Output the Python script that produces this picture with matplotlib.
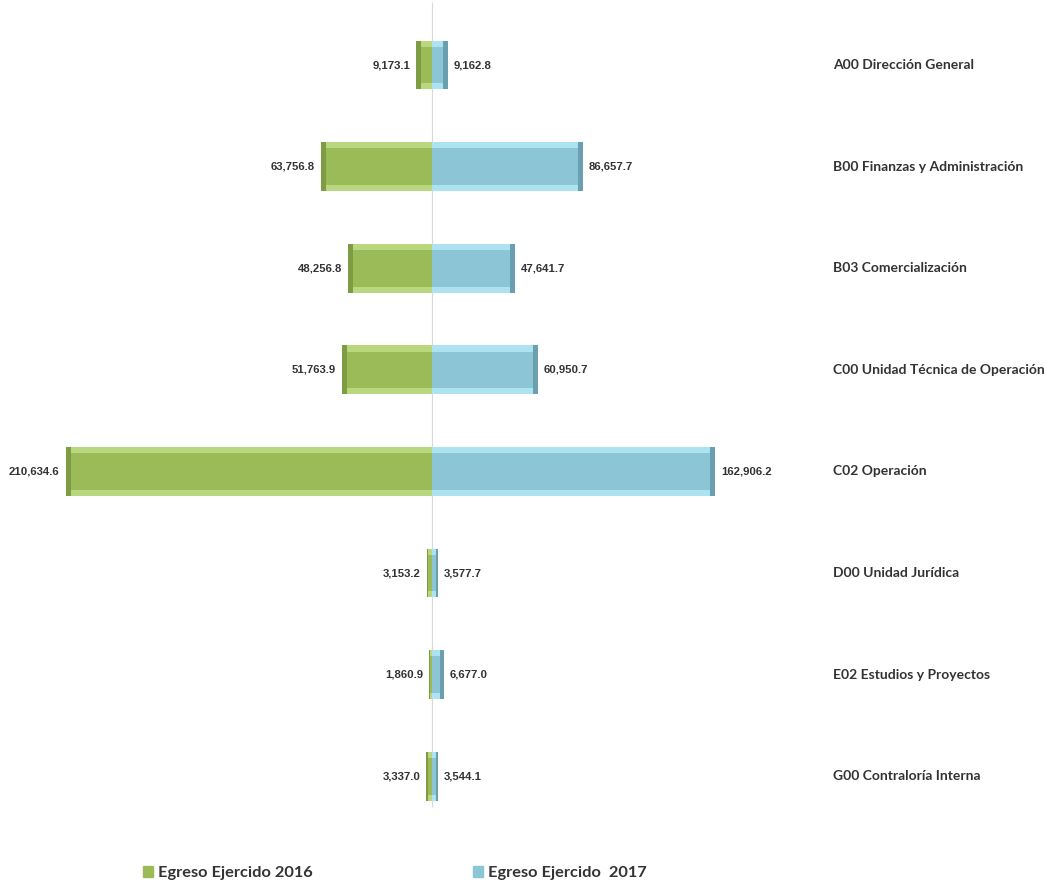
import matplotlib.pyplot as plt
import numpy as np

# data
categories = ["A00 Dirección General", "B00 Finanzas y Administración",
              "B03 Comercialización", "C00 Unidad Técnica de Operación",
              "C02 Operación", "D00 Unidad Jurídica",
              "E02 Estudios y Proyectos", "G00 Contraloría Interna"]
egreso_2016 = [9173.1, 63756.8, 48256.8, 51763.9, 210634.6, 3153.2, 1860.9, 3337.0]
egreso_2017 = [9162.8, 86657.7, 47641.7, 60950.7, 162906.2, 3577.7, 6677.0, 3544.1]
series_names = ["Egreso Ejercido 2016", "Egreso Ejercido  2017"]

GREEN = "#9BBB59"
GREEN_LIGHT = "#B9D77F"
GREEN_DARK = "#7E9C44"
BLUE = "#8CC5D5"
BLUE_LIGHT = "#ADE2F1"
BLUE_DARK = "#6A9FAF"

NUM_FONT = ["Liberation Sans Narrow", "Liberation Sans", "DejaVu Sans"]
LAB_FONT = ["Lato", "DejaVu Sans"]

fig = plt.figure(figsize=(10.44, 8.88), dpi=100)
ax = fig.add_axes([0, 0, 1, 1])

# scale: ~575 units per pixel, zero at x=432 px
UPP = 575.0
ax.set_xlim(-432 * UPP, (1044 - 432) * UPP)
ax.set_ylim(8.10, -0.64)
ax.axis("off")

y = np.arange(len(categories))
h = 0.48
edge = 0.06
cap = 5 * UPP


def bevel_bar(vals, sign, c, c_light, c_dark):
    vals = np.array(vals) * sign
    ax.barh(y, vals, height=h, color=c, zorder=2)
    # lighter strips top/bottom
    ax.barh(y - h / 2 + edge / 2, vals, height=edge, color=c_light, zorder=3)
    ax.barh(y + h / 2 - edge / 2, vals, height=edge, color=c_light, zorder=3)
    # darker cap at the outer end
    capw = np.minimum(np.abs(vals) * 0.35, cap) * sign
    ax.barh(y, capw, left=vals - capw, height=h, color=c_dark, zorder=4)


bevel_bar(egreso_2016, -1, GREEN, GREEN_LIGHT, GREEN_DARK)
bevel_bar(egreso_2017, 1, BLUE, BLUE_LIGHT, BLUE_DARK)

# centre line
ax.vlines(0, -0.62, 7.3, color="#D9D9D9", lw=0.8, zorder=1)

for i in range(len(categories)):
    ax.text(-egreso_2016[i] - 6 * UPP, y[i], "{:,.1f}".format(egreso_2016[i]),
            ha="right", va="center", fontsize=8.2, fontweight="bold",
            color="#333333", family=NUM_FONT)
    ax.text(egreso_2017[i] + 6 * UPP, y[i], "{:,.1f}".format(egreso_2017[i]),
            ha="left", va="center", fontsize=8.2, fontweight="bold",
            color="#333333", family=NUM_FONT)
    ax.text((833 - 432) * UPP, y[i], categories[i], ha="left", va="center",
            fontsize=10, fontweight="bold", color="#333333", family=LAB_FONT)

# legend at the bottom
handles = [plt.Rectangle((0, 0), 1, 1, color=GREEN),
           plt.Rectangle((0, 0), 1, 1, color=BLUE)]
leg = fig.legend(handles, series_names, ncol=2, loc="lower left",
                 bbox_to_anchor=(0.123, -0.008), frameon=False,
                 handlelength=0.6, handleheight=0.6, handletextpad=0.3,
                 columnspacing=9.8,
                 prop={"family": LAB_FONT, "weight": "bold", "size": 11.8})
for t in leg.get_texts():
    t.set_color("#333333")

plt.savefig("out.png", dpi=100)
